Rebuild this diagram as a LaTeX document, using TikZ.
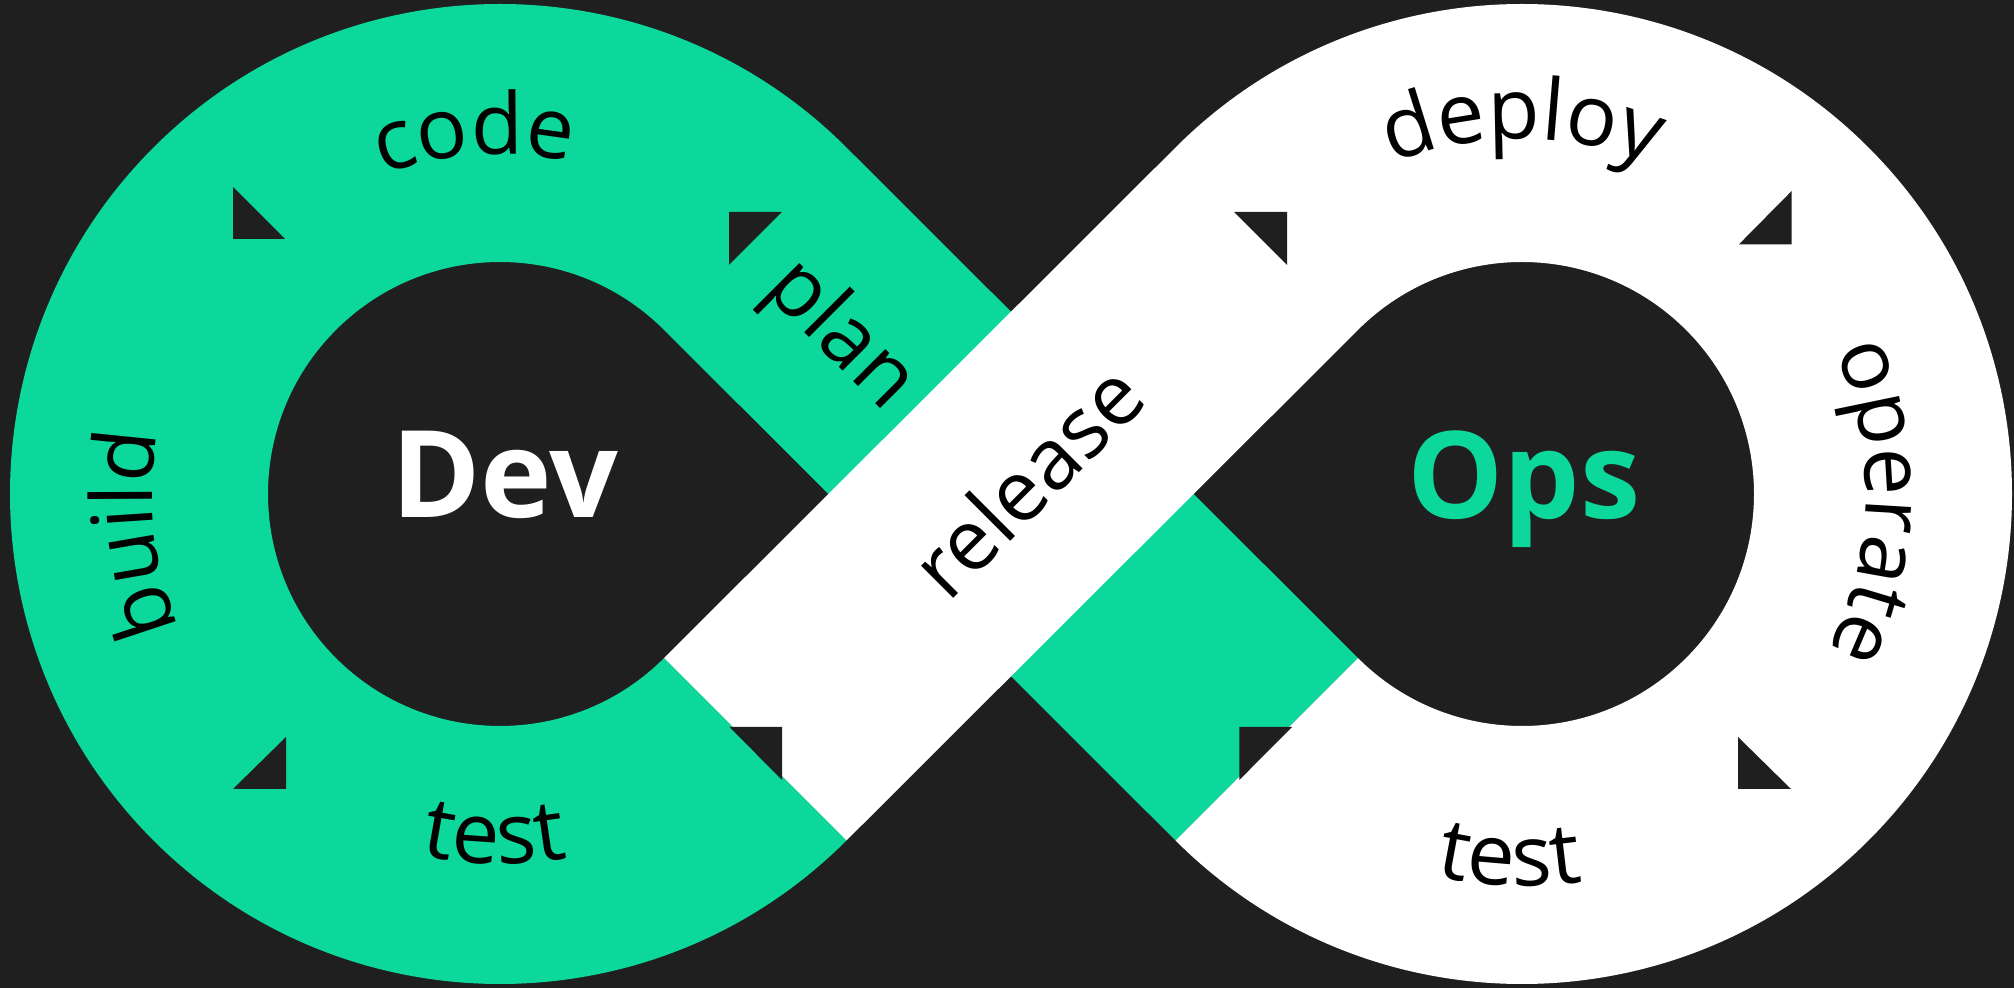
\documentclass[tikz,border=0pt]{standalone}
\usepackage{fontspec}
\newfontfamily\osans{Open Sans}
\usetikzlibrary{calc,decorations.text}
\definecolor{bg}{HTML}{1F1F1F}
\definecolor{devgreen}{RGB}{13,216,155}
\tikzset{
  arrowtri/.style={fill=bg},
  lbl/.style={font=\osans\fontsize{85}{90}\selectfont, text=black, inner sep=0pt},
  arclbl/.style={decorate, decoration={text along path, text align=center, text={|\osans\fontsize{85}{90}\selectfont|#1}}},
  big/.style={font=\osans\bfseries\fontsize{121}{130}\selectfont, inner sep=0pt, anchor=base}
}
\begin{document}
\begin{tikzpicture}[x=1pt,y=1pt]
\useasboundingbox (0,0) rectangle (2014,988);
\fill[bg] (0,0) rectangle (2014,988);
\coordinate (L) at (500,494);
\coordinate (R) at (1522,494);
% green loop: left ring + strip to the right ring
\fill[devgreen] ($(L)+(45:490)$) arc[start angle=45,end angle=315,radius=490]
  -- ($(L)+(315:232)$) arc[start angle=315,end angle=45,radius=232]
  -- ($(R)+(225:490)$) -- ($(R)+(225:232)$) -- cycle;
% white loop: right ring + strip to the left ring
\fill[white] ($(R)+(135:490)$) arc[start angle=135,end angle=-135,radius=490]
  -- ($(R)+(-135:232)$) arc[start angle=-135,end angle=135,radius=232]
  -- ($(L)+(-45:490)$) -- ($(L)+(-45:232)$) -- cycle;
% direction triangles
\fill[arrowtri] (233,749) -- (233,801) -- (285,749) -- cycle;
\fill[arrowtri] (729,776) -- (782,776) -- (729,723) -- cycle;
\fill[arrowtri] (286,199) -- (286,251) -- (233,199) -- cycle;
\fill[arrowtri] (782,261) -- (729.5,261) -- (782,208) -- cycle;
\fill[arrowtri] (1239.3,261) -- (1292,261) -- (1239.3,208) -- cycle;
\fill[arrowtri] (1287,776) -- (1234,776) -- (1287,723) -- cycle;
\fill[arrowtri] (1791.7,743.7) -- (1791.7,797) -- (1739,743.7) -- cycle;
\fill[arrowtri] (1738,199) -- (1738,251) -- (1791,199) -- cycle;
% curved labels
\path[arclbl=code] ($(L)+(134.1:340)$) arc[start angle=134.1,end angle=54.1,radius=340];
\path[arclbl=build] ($(L)+(226.3:348)$) arc[start angle=226.3,end angle=146.3,radius=348];
\path[arclbl=test] ($(L)+(229.1:370)$) arc[start angle=229.1,end angle=309.1,radius=370];
\path[arclbl=deploy] ($(R)+(129.9:355)$) arc[start angle=129.9,end angle=49.9,radius=355];
\path[arclbl=operate] ($(R)+(43.75:344)$) arc[start angle=43.75,end angle=-46.25,radius=344];
\path[arclbl=test] ($(R)+(228.1:392)$) arc[start angle=228.1,end angle=308.1,radius=392];
% straight labels
\node[lbl, rotate=-45, anchor=base] (plan) at (824,636) {plan};
\node[lbl, rotate=45, anchor=base] (release) at (1049.5,485.5) {release};
\node[big, text=white] (dev) at (505,470) {Dev};
\node[big, text=devgreen] (ops) at (1524,469) {Ops};
\end{tikzpicture}
\end{document}
